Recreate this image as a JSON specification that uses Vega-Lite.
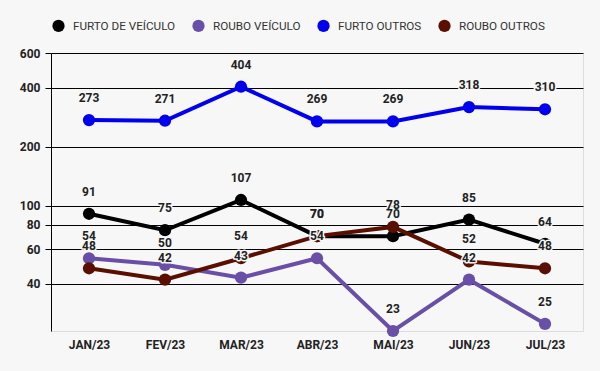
{
  "$schema": "https://vega.github.io/schema/vega-lite/v6.json",
  "width": 532,
  "height": 278,
  "autosize": {"type": "none"},
  "padding": {"left": 51, "top": 53, "right": 17, "bottom": 40},
  "background": "#f7f7f7",
  "data": {
    "values": [
      {"mes": "JAN/23", "serie": "FURTO DE VEÍCULO", "valor": 91},
      {"mes": "FEV/23", "serie": "FURTO DE VEÍCULO", "valor": 75},
      {"mes": "MAR/23", "serie": "FURTO DE VEÍCULO", "valor": 107},
      {"mes": "ABR/23", "serie": "FURTO DE VEÍCULO", "valor": 70},
      {"mes": "MAI/23", "serie": "FURTO DE VEÍCULO", "valor": 70},
      {"mes": "JUN/23", "serie": "FURTO DE VEÍCULO", "valor": 85},
      {"mes": "JUL/23", "serie": "FURTO DE VEÍCULO", "valor": 64},
      {"mes": "JAN/23", "serie": "ROUBO VEÍCULO", "valor": 54},
      {"mes": "FEV/23", "serie": "ROUBO VEÍCULO", "valor": 50},
      {"mes": "MAR/23", "serie": "ROUBO VEÍCULO", "valor": 43},
      {"mes": "ABR/23", "serie": "ROUBO VEÍCULO", "valor": 54},
      {"mes": "MAI/23", "serie": "ROUBO VEÍCULO", "valor": 23},
      {"mes": "JUN/23", "serie": "ROUBO VEÍCULO", "valor": 42},
      {"mes": "JUL/23", "serie": "ROUBO VEÍCULO", "valor": 25},
      {"mes": "JAN/23", "serie": "FURTO OUTROS", "valor": 273},
      {"mes": "FEV/23", "serie": "FURTO OUTROS", "valor": 271},
      {"mes": "MAR/23", "serie": "FURTO OUTROS", "valor": 404},
      {"mes": "ABR/23", "serie": "FURTO OUTROS", "valor": 269},
      {"mes": "MAI/23", "serie": "FURTO OUTROS", "valor": 269},
      {"mes": "JUN/23", "serie": "FURTO OUTROS", "valor": 318},
      {"mes": "JUL/23", "serie": "FURTO OUTROS", "valor": 310},
      {"mes": "JAN/23", "serie": "ROUBO OUTROS", "valor": 48},
      {"mes": "FEV/23", "serie": "ROUBO OUTROS", "valor": 42},
      {"mes": "MAR/23", "serie": "ROUBO OUTROS", "valor": 54},
      {"mes": "ABR/23", "serie": "ROUBO OUTROS", "valor": 70},
      {"mes": "MAI/23", "serie": "ROUBO OUTROS", "valor": 78},
      {"mes": "JUN/23", "serie": "ROUBO OUTROS", "valor": 52},
      {"mes": "JUL/23", "serie": "ROUBO OUTROS", "valor": 48}
    ]
  },
  "encoding": {
    "x": {
      "field": "mes",
      "type": "ordinal",
      "sort": ["JAN/23", "FEV/23", "MAR/23", "ABR/23", "MAI/23", "JUN/23", "JUL/23"],
      "scale": {"type": "point", "padding": 0.5},
      "axis": {
        "title": null,
        "labelAngle": 0,
        "domain": false,
        "ticks": false,
        "grid": false,
        "labelFont": "Roboto",
        "labelFontWeight": "bold",
        "labelFontSize": 12,
        "labelColor": "#222222",
        "labelPadding": 8
      }
    },
    "y": {
      "field": "valor",
      "type": "quantitative",
      "scale": {"type": "log", "domain": [23, 600], "nice": false},
      "axis": {
        "title": null,
        "values": [40, 60, 80, 100, 200, 400, 600],
        "labelFont": "Roboto",
        "labelFontWeight": "bold",
        "labelFontSize": 12,
        "labelColor": "#222222",
        "labelPadding": 5,
        "tickColor": "#000000",
        "tickSize": 6,
        "domainColor": "#000000",
        "grid": true,
        "gridColor": "#000000",
        "gridOpacity": 1,
        "gridWidth": 1
      }
    },
    "color": {
      "field": "serie",
      "type": "nominal",
      "scale": {
        "domain": ["FURTO DE VEÍCULO", "ROUBO VEÍCULO", "FURTO OUTROS", "ROUBO OUTROS"],
        "range": ["#000000", "#6a4fa8", "#0000ee", "#5b0f00"]
      },
      "legend": {
        "title": null,
        "orient": "none",
        "direction": "horizontal",
        "legendX": 1,
        "legendY": -34,
        "symbolType": "circle",
        "symbolSize": 150,
        "symbolOpacity": 1,
        "symbolStrokeWidth": 0,
        "labelFont": "Roboto",
        "labelFontSize": 11.7,
        "labelColor": "#333333",
        "labelOffset": 8,
        "columnPadding": 16
      }
    }
  },
  "layer": [
    {
      "mark": {"type": "line", "strokeWidth": 4}
    },
    {
      "mark": {"type": "point", "filled": true, "size": 150, "opacity": 1}
    },
    {
      "mark": {
        "type": "text",
        "dy": -22,
        "font": "Roboto",
        "fontWeight": "bold",
        "fontSize": 12,
        "stroke": "#f7f7f7",
        "strokeWidth": 3,
        "strokeJoin": "round",
        "baseline": "middle"
      },
      "encoding": {"text": {"field": "valor", "type": "quantitative"}, "color": {"value": "#f7f7f7"}}
    },
    {
      "mark": {
        "type": "text",
        "dy": -22,
        "font": "Roboto",
        "fontWeight": "bold",
        "fontSize": 12,
        "baseline": "middle"
      },
      "encoding": {"text": {"field": "valor", "type": "quantitative"}, "color": {"value": "#222222"}}
    }
  ]
}
